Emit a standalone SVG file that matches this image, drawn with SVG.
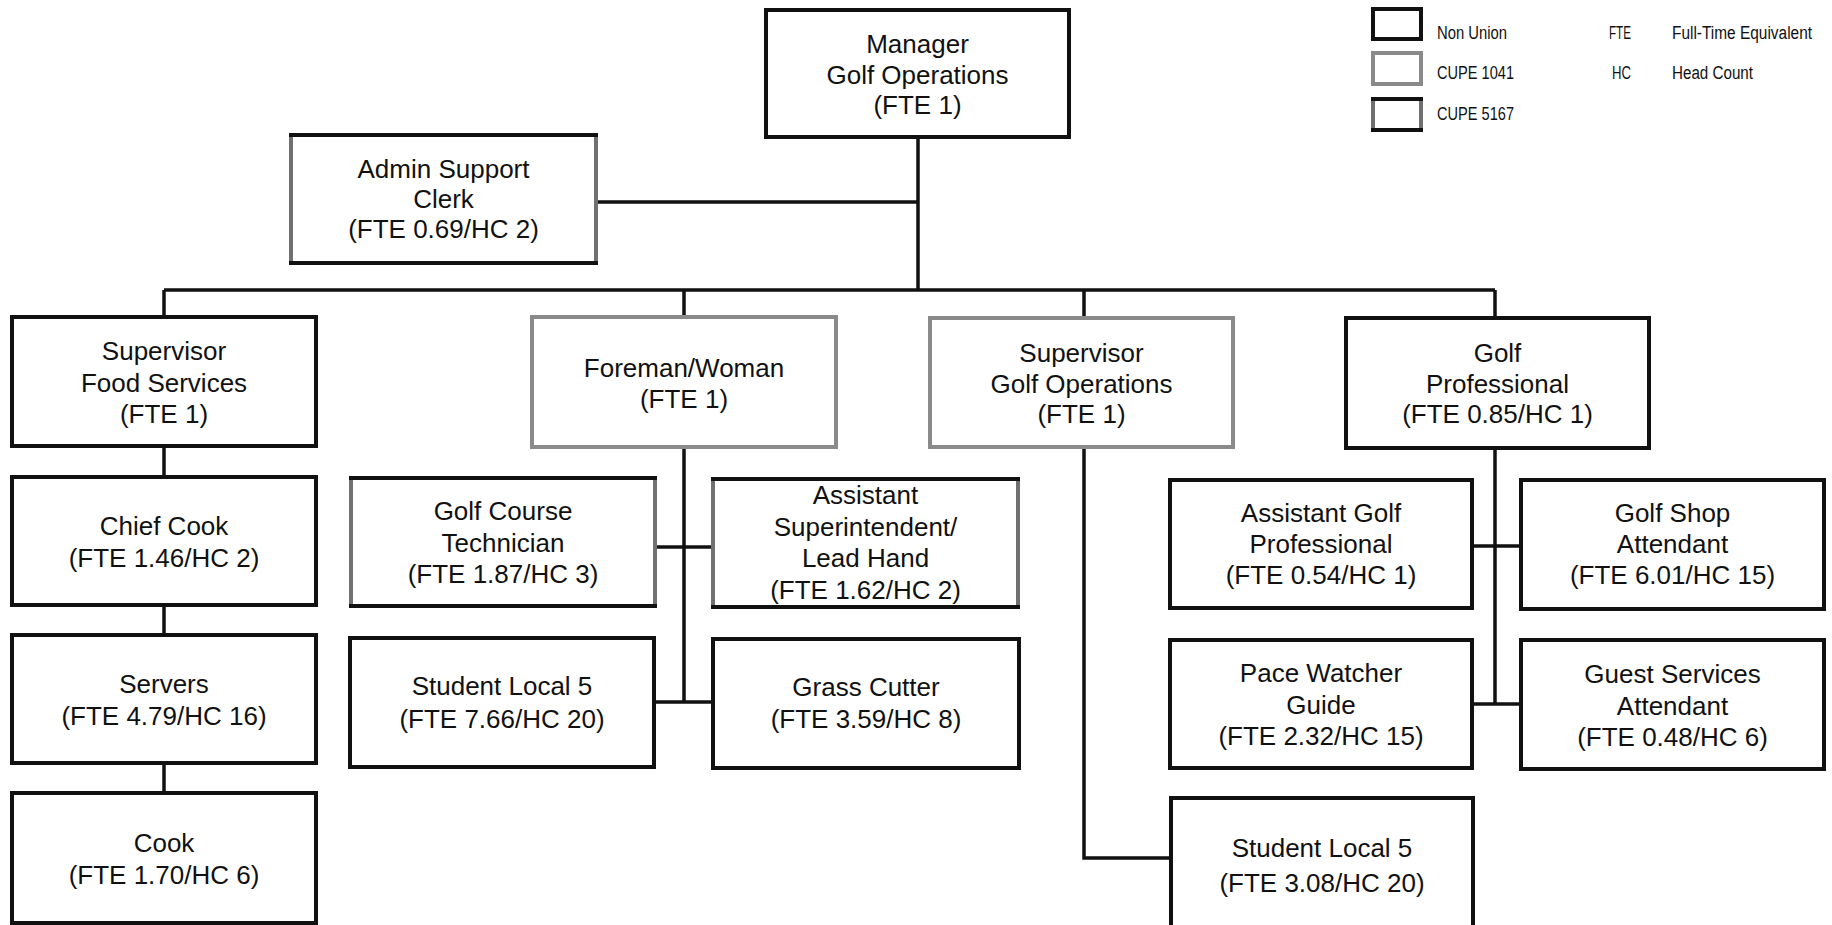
<svg xmlns="http://www.w3.org/2000/svg" width="1832" height="925" viewBox="0 0 1832 925">
<style>
  .bg { fill: #ffffff; }
  .nu { fill: #ffffff; stroke: #111111; stroke-width: 4; }
  .c1 { fill: #ffffff; stroke: #8a8a8a; stroke-width: 4; }
  .c2 { fill: #ffffff; stroke: #707070; stroke-width: 4; }
  .c2e { stroke: #111111; stroke-width: 4; fill: none; }
  .t { font-family: "Liberation Sans", Arial, sans-serif; font-size: 26px; fill: #111111; text-anchor: middle; }
  .lg { font-family: "Liberation Sans", Arial, sans-serif; font-size: 18px; fill: #111111; }
  .conn { stroke: #111111; stroke-width: 3.5; fill: none; }
</style>
<rect class="bg" x="0" y="0" width="1832" height="925"/>

<g id="connectors">
  <line class="conn" x1="918" y1="137" x2="918" y2="290"/>
  <line class="conn" x1="596" y1="202" x2="918" y2="202"/>
  <line class="conn" x1="164" y1="290" x2="1495" y2="290"/>
  <line class="conn" x1="164" y1="290" x2="164" y2="317"/>
  <line class="conn" x1="684" y1="290" x2="684" y2="317"/>
  <line class="conn" x1="1084" y1="290" x2="1084" y2="318"/>
  <line class="conn" x1="1495" y1="290" x2="1495" y2="318"/>
  <line class="conn" x1="164" y1="446" x2="164" y2="477"/>
  <line class="conn" x1="164" y1="605" x2="164" y2="635"/>
  <line class="conn" x1="164" y1="763" x2="164" y2="793"/>
  <line class="conn" x1="684" y1="447" x2="684" y2="702"/>
  <line class="conn" x1="655" y1="547" x2="713" y2="547"/>
  <line class="conn" x1="654" y1="702" x2="713" y2="702"/>
  <polyline class="conn" points="1084,447 1084,858 1171,858"/>
  <line class="conn" x1="1495" y1="448" x2="1495" y2="704"/>
  <line class="conn" x1="1472" y1="546" x2="1521" y2="546"/>
  <line class="conn" x1="1472" y1="704" x2="1521" y2="704"/>
</g>

<g id="legend">
  <rect class="nu" x="1373" y="9" width="48" height="30"/>
  <rect class="c1" x="1373" y="53" width="48" height="31"/>
  <rect class="c2" x="1373" y="99" width="48" height="31"/>
  <line class="c2e" x1="1371" y1="99" x2="1423" y2="99"/>
  <line class="c2e" x1="1371" y1="130" x2="1423" y2="130"/>
  <text class="lg" x="1437" y="39" textLength="70" lengthAdjust="spacingAndGlyphs">Non Union</text>
  <text class="lg" x="1437" y="79" textLength="77" lengthAdjust="spacingAndGlyphs">CUPE 1041</text>
  <text class="lg" x="1437" y="120" textLength="77" lengthAdjust="spacingAndGlyphs">CUPE 5167</text>
  <text class="lg" x="1609" y="39" textLength="22" lengthAdjust="spacingAndGlyphs">FTE</text>
  <text class="lg" x="1612" y="79" textLength="19" lengthAdjust="spacingAndGlyphs">HC</text>
  <text class="lg" x="1672" y="39" textLength="140" lengthAdjust="spacingAndGlyphs">Full-Time Equivalent</text>
  <text class="lg" x="1672" y="79" textLength="81" lengthAdjust="spacingAndGlyphs">Head Count</text>
</g>

<g id="manager">
  <rect class="nu" x="766" y="10" width="303" height="127"/>
  <text class="t" x="917.5" y="53">Manager</text>
  <text class="t" x="917.5" y="83.5">Golf Operations</text>
  <text class="t" x="917.5" y="114">(FTE 1)</text>
</g>

<g id="admin">
  <rect class="c2" x="291" y="135" width="305" height="128"/>
  <line class="c2e" x1="289" y1="135" x2="598" y2="135"/>
  <line class="c2e" x1="289" y1="263" x2="598" y2="263"/>
  <text class="t" x="443.5" y="178">Admin Support</text>
  <text class="t" x="443.5" y="208">Clerk</text>
  <text class="t" x="443.5" y="238">(FTE 0.69/HC 2)</text>
</g>

<g id="sup-food">
  <rect class="nu" x="12" y="317" width="304" height="129"/>
  <text class="t" x="164" y="360">Supervisor</text>
  <text class="t" x="164" y="391.5">Food Services</text>
  <text class="t" x="164" y="422.5">(FTE 1)</text>
</g>

<g id="chief-cook">
  <rect class="nu" x="12" y="477" width="304" height="128"/>
  <text class="t" x="164" y="535">Chief Cook</text>
  <text class="t" x="164" y="566.5">(FTE 1.46/HC 2)</text>
</g>

<g id="servers">
  <rect class="nu" x="12" y="635" width="304" height="128"/>
  <text class="t" x="164" y="693">Servers</text>
  <text class="t" x="164" y="725">(FTE 4.79/HC 16)</text>
</g>

<g id="cook">
  <rect class="nu" x="12" y="793" width="304" height="130"/>
  <text class="t" x="164" y="852">Cook</text>
  <text class="t" x="164" y="883.5">(FTE 1.70/HC 6)</text>
</g>

<g id="foreman">
  <rect class="c1" x="532" y="317" width="304" height="130"/>
  <text class="t" x="684" y="376.5">Foreman/Woman</text>
  <text class="t" x="684" y="408">(FTE 1)</text>
</g>

<g id="golf-course-tech">
  <rect class="c2" x="351" y="478" width="304" height="128"/>
  <line class="c2e" x1="349" y1="478" x2="657" y2="478"/>
  <line class="c2e" x1="349" y1="606" x2="657" y2="606"/>
  <text class="t" x="503" y="520">Golf Course</text>
  <text class="t" x="503" y="551.5">Technician</text>
  <text class="t" x="503" y="583">(FTE 1.87/HC 3)</text>
</g>

<g id="asst-supt">
  <rect class="c2" x="713" y="479" width="305" height="128"/>
  <line class="c2e" x1="711" y1="479" x2="1020" y2="479"/>
  <line class="c2e" x1="711" y1="607" x2="1020" y2="607"/>
  <text class="t" x="865.5" y="504">Assistant</text>
  <text class="t" x="865.5" y="535.5">Superintendent/</text>
  <text class="t" x="865.5" y="567">Lead Hand</text>
  <text class="t" x="865.5" y="598.5">(FTE 1.62/HC 2)</text>
</g>

<g id="student-local-a">
  <rect class="nu" x="350" y="638" width="304" height="129"/>
  <text class="t" x="502" y="695">Student Local 5</text>
  <text class="t" x="502" y="727.5">(FTE 7.66/HC 20)</text>
</g>

<g id="grass-cutter">
  <rect class="nu" x="713" y="639" width="306" height="129"/>
  <text class="t" x="866" y="695.5">Grass Cutter</text>
  <text class="t" x="866" y="728">(FTE 3.59/HC 8)</text>
</g>

<g id="sup-golf-ops">
  <rect class="c1" x="930" y="318" width="303" height="129"/>
  <text class="t" x="1081.5" y="361.5">Supervisor</text>
  <text class="t" x="1081.5" y="393">Golf Operations</text>
  <text class="t" x="1081.5" y="423">(FTE 1)</text>
</g>

<g id="student-local-b">
  <rect class="nu" x="1171" y="798" width="302" height="134"/>
  <text class="t" x="1322" y="856.5">Student Local 5</text>
  <text class="t" x="1322" y="891.5">(FTE 3.08/HC 20)</text>
</g>

<g id="golf-pro">
  <rect class="nu" x="1346" y="318" width="303" height="130"/>
  <text class="t" x="1497.5" y="361.5">Golf</text>
  <text class="t" x="1497.5" y="393">Professional</text>
  <text class="t" x="1497.5" y="423">(FTE 0.85/HC 1)</text>
</g>

<g id="asst-golf-pro">
  <rect class="nu" x="1170" y="480" width="302" height="128"/>
  <text class="t" x="1321" y="521.5">Assistant Golf</text>
  <text class="t" x="1321" y="553">Professional</text>
  <text class="t" x="1321" y="584">(FTE 0.54/HC 1)</text>
</g>

<g id="golf-shop">
  <rect class="nu" x="1521" y="480" width="303" height="129"/>
  <text class="t" x="1672.5" y="521.5">Golf Shop</text>
  <text class="t" x="1672.5" y="553">Attendant</text>
  <text class="t" x="1672.5" y="584">(FTE 6.01/HC 15)</text>
</g>

<g id="pace-watcher">
  <rect class="nu" x="1170" y="640" width="302" height="128"/>
  <text class="t" x="1321" y="682">Pace Watcher</text>
  <text class="t" x="1321" y="713.5">Guide</text>
  <text class="t" x="1321" y="745">(FTE 2.32/HC 15)</text>
</g>

<g id="guest-services">
  <rect class="nu" x="1521" y="640" width="303" height="129"/>
  <text class="t" x="1672.5" y="683">Guest Services</text>
  <text class="t" x="1672.5" y="714.5">Attendant</text>
  <text class="t" x="1672.5" y="746">(FTE 0.48/HC 6)</text>
</g>
</svg>
